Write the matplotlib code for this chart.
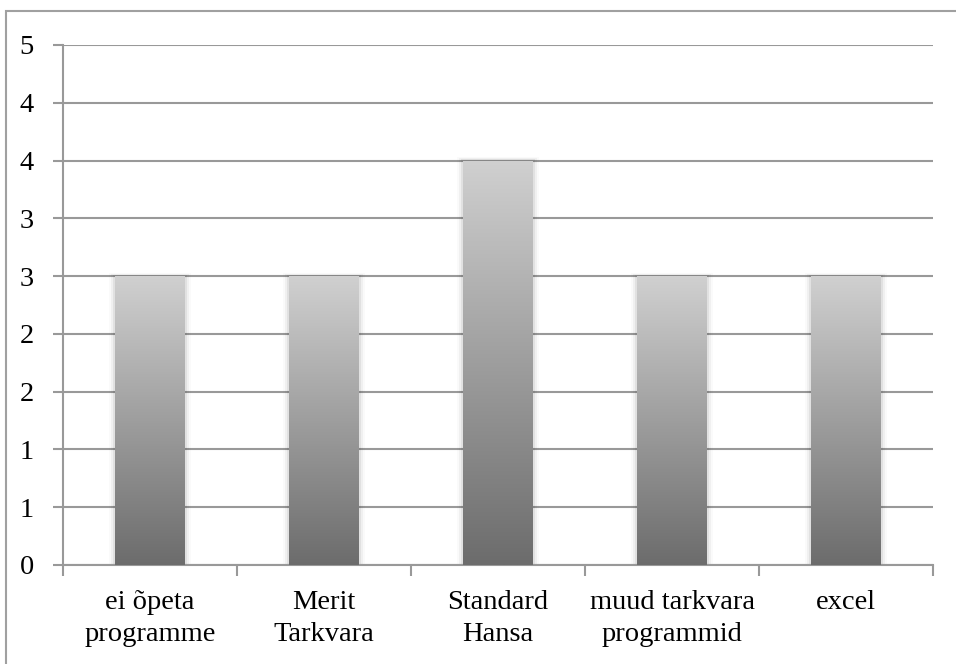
import matplotlib
matplotlib.use("Agg")
import matplotlib.pyplot as plt
import numpy as np
from matplotlib.patches import Rectangle
from matplotlib.colors import LinearSegmentedColormap

categories = ["ei õpeta\nprogramme", "Merit\nTarkvara", "Standard\nHansa",
              "muud tarkvara\nprogrammid", "excel"]
values = [2.5, 2.5, 3.5, 2.5, 2.5]
ytick_values = [0, 0.5, 1, 1.5, 2, 2.5, 3, 3.5, 4, 4.5]
ytick_labels = ["0", "1", "1", "2", "2", "3", "3", "4", "4", "5"]

plt.rcParams['font.family'] = ['Liberation Serif', 'DejaVu Serif']
FS = 20.5

W, H = 956, 664
fig = plt.figure(figsize=(W / 100, H / 100), dpi=100)

# outer frame (only top/left visible)
frame = Rectangle((6 / W, -0.05), 1.2, (H - 10.5) / H + 0.05, transform=fig.transFigure,
                  fill=False, edgecolor='#a0a0a0', linewidth=1.5)
fig.patches.append(frame)

left, right, top, bottom = 63, 933, 45, 565
ax = fig.add_axes([left / W, (H - bottom) / H, (right - left) / W, (bottom - top) / H])

n = len(categories)
x = np.arange(n)
ax.set_xlim(-0.5, n - 0.5)
ax.set_ylim(0, 4.5)

cmap = LinearSegmentedColormap.from_list("g", ["#6c6c6c", "#d0d0d0"])
grad = np.linspace(0, 1, 256).reshape(-1, 1)
bars = ax.bar(x, values, width=0.4, color='none', edgecolor='none', zorder=3)
for b in bars:
    x0, y0, w, h = b.get_x(), b.get_y(), b.get_width(), b.get_height()
    for k, a in enumerate([0.06, 0.04, 0.02]):
        off = 0.012 * (k + 1)
        sh = Rectangle((x0 - off, y0), w + 2 * off, h + 0.01 * (k + 1),
                       facecolor='black', alpha=a, edgecolor='none', zorder=2)
        ax.add_patch(sh)
    im = ax.imshow(grad, extent=[x0, x0 + w, y0, y0 + h], origin='lower',
                   cmap=cmap, aspect='auto', zorder=3, interpolation='bilinear')
    im.set_clip_path(b)

ax.set_yticks(ytick_values)
ax.set_yticklabels(ytick_labels, fontsize=FS)
ax.yaxis.grid(True, color='#999999', linewidth=1.5, zorder=1)
ax.set_axisbelow(True)

ax.set_xticks(np.arange(-0.5, n, 1.0))
ax.set_xticklabels([])
ax.set_xticks(x, minor=True)
ax.set_xticklabels(categories, minor=True, fontsize=FS, linespacing=1.38)
ax.tick_params(axis='x', which='minor', length=0, pad=18)
ax.tick_params(axis='x', which='major', length=8, color='#999999', width=1.5, direction='out')
ax.tick_params(axis='y', length=7, color='#999999', width=1.5, pad=19)
for lbl in ax.get_yticklabels():
    lbl.set_horizontalalignment('center')

for s in ['top', 'right']:
    ax.spines[s].set_visible(False)
for s in ['left', 'bottom']:
    ax.spines[s].set_color('#999999')
    ax.spines[s].set_linewidth(1.5)

fig.savefig("out.png", dpi=100)
